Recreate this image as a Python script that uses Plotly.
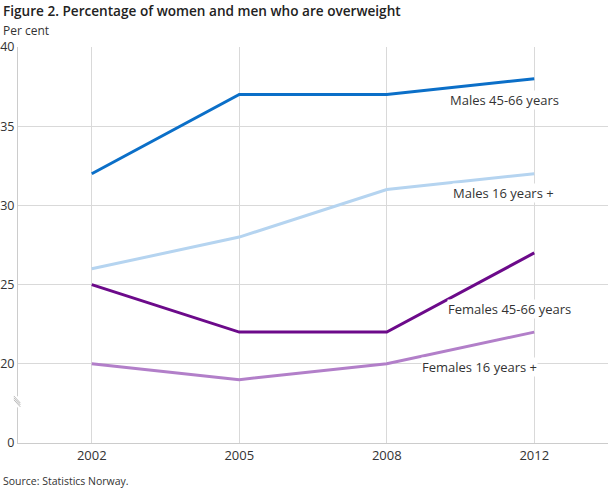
import plotly.graph_objects as go

years = ["2002", "2005", "2008", "2012"]
males_45_66 = [32, 37, 37, 38]
males_16 = [26, 28, 31, 32]
females_45_66 = [25, 22, 22, 27]
females_16 = [20, 19, 20, 22]

series_names = ["Males 45-66 years", "Males 16 years +", "Females 45-66 years", "Females 16 years +"]
series_values = [males_45_66, males_16, females_45_66, females_16]
colors = ["#0b6fc8", "#b5d4f0", "#6c0a8a", "#b27fc9"]

tick_vals = [15, 20, 25, 30, 35, 40]
tick_text = ["0", "20", "25", "30", "35", "40"]

FONT = "Open Sans"

fig = go.Figure()
for name, vals, col in zip(series_names, series_values, colors):
    fig.add_trace(go.Scatter(x=years, y=vals, mode="lines", name=name,
                             line=dict(color=col, width=3), hoverinfo="x+y+name"))

# labels (positions in data coordinates)
label_pos = [(2.80, 36.65), (2.79, 30.76), (2.83, 23.45), (2.63, 19.8)]
for name, (lx, ly) in zip(series_names, label_pos):
    fig.add_annotation(x=lx, y=ly, xref="x", yref="y", text=name, showarrow=False,
                       font=dict(family=FONT, size=13, color="#333333"),
                       bgcolor="white", borderpad=0)

# axis break
fig.add_shape(type="rect", xref="paper", yref="y", x0=-0.01, x1=0.01, y0=17.25, y1=17.95,
              fillcolor="white", line=dict(width=0), layer="above")
for dy in (-0.12, 0.0, 0.12):
    fig.add_shape(type="line", xref="paper", yref="y", x0=-0.007, x1=0.004,
                  y0=17.85 + dy, y1=17.4 + dy, line=dict(color="#bbbbbb", width=1), layer="above")

fig.update_layout(
    width=610, height=488,
    margin=dict(l=18, r=2, t=47, b=45, autoexpand=False),
    paper_bgcolor="white", plot_bgcolor="white",
    showlegend=False,
    font=dict(family=FONT, size=12, color="#333333"),
    xaxis=dict(type="category", range=[-0.5, 3.5], showgrid=True, gridcolor="#d9d9d9",
               gridwidth=1, showline=True, linecolor="#cccccc", ticks="", automargin=False,
               tickfont=dict(family=FONT, size=13, color="#333333"), fixedrange=True),
    yaxis=dict(range=[15, 40], tickvals=tick_vals, ticktext=tick_text, showgrid=True,
               gridcolor="#d9d9d9", gridwidth=1, showline=True, linecolor="#cccccc",
               ticks="", zeroline=False, automargin=False,
               tickfont=dict(family=FONT, size=12.5, color="#333333"), ticklabelstandoff=0,
               fixedrange=True),
)

fig.add_annotation(text="Figure 2. Percentage of women and men who are overweight",
                   xref="paper", yref="paper", x=0, y=1, xshift=-17, yshift=48,
                   xanchor="left", yanchor="top", showarrow=False,
                   font=dict(family=FONT, size=13.6, color="#222222", weight=600))
fig.add_annotation(text="Per cent", xref="paper", yref="paper", x=0, y=1, xshift=-17, yshift=27,
                   xanchor="left", yanchor="top", showarrow=False,
                   font=dict(family=FONT, size=12, color="#333333"))
fig.add_annotation(text="Source: Statistics Norway.", xref="paper", yref="paper", x=0, y=0,
                   xshift=-17, yshift=-29, xanchor="left", yanchor="top", showarrow=False,
                   font=dict(family=FONT, size=10.5, color="#333333"))

fig.write_html("out.html", config={"displayModeBar": False},
               post_script="document.body.style.margin='0';document.body.style.padding='0';document.body.style.overflow='hidden';")
